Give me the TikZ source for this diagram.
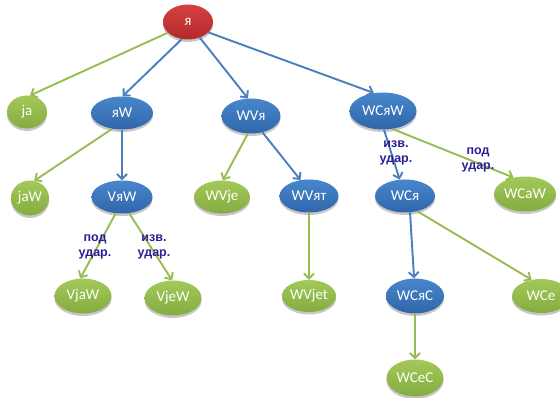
\documentclass[tikz,border=0pt]{standalone}
\usepackage{fontspec}
\setmainfont{Carlito}
\newfontfamily\lblfont{Liberation Sans}
\usetikzlibrary{shapes.geometric,arrows.meta,shadows}
\definecolor{bluetop}{RGB}{72,134,204}
\definecolor{bluebot}{RGB}{48,102,170}
\definecolor{greentop}{RGB}{164,200,90}
\definecolor{greenbot}{RGB}{132,172,64}
\definecolor{redtop}{RGB}{214,66,66}
\definecolor{redbot}{RGB}{178,40,42}
\definecolor{bluearr}{RGB}{74,126,190}
\definecolor{greenarr}{RGB}{150,188,82}
\definecolor{lblcol}{RGB}{44,30,150}
\tikzset{
  nd/.style={ellipse, inner sep=0pt, minimum height=34pt, text=white,
    font=\fontsize{15}{17}\selectfont,
    drop shadow={shadow xshift=0pt, shadow yshift=-2.5pt, opacity=0.22, fill=black}},
  bnode/.style={nd, top color=bluetop, bottom color=bluebot},
  gnode/.style={nd, top color=greentop, bottom color=greenbot},
  rnode/.style={nd, top color=redtop, bottom color=redbot},
  conn/.style={line width=1.9pt, -{Straight Barb[length=5pt,width=10pt]}},
  barr/.style={conn, draw=bluearr},
  garr/.style={conn, draw=greenarr},
  lbl/.style={text=lblcol, font=\lblfont\bfseries\fontsize{12.5}{15.5}\selectfont, align=center, inner sep=0pt}
}
\begin{document}
\begin{tikzpicture}[x=1pt,y=-1pt]
\useasboundingbox (0,0) rectangle (560,398);
\begin{scope}
\clip (0,0) rectangle (560,398);
\node[rnode, minimum width=50pt, minimum height=35pt] (r) at (188,22) {я};
\node[gnode, minimum width=40pt, minimum height=33pt] (ja) at (27,112) {ja};
\node[bnode, minimum width=62pt, minimum height=33pt] (yaW) at (122,113) {яW};
\node[bnode, minimum width=59pt, minimum height=35pt] (WVya) at (251,116) {WVя};
\node[bnode, minimum width=67pt, minimum height=37pt] (WCyaW) at (383,111) {WCяW};
\node[gnode, minimum width=38pt, minimum height=35pt] (jaW) at (30,198) {jaW};
\node[bnode, minimum width=61pt, minimum height=33pt] (VyaW) at (122,197) {VяW};
\node[gnode, minimum width=56pt, minimum height=33pt] (WVje) at (222,197) {WVje};
\node[bnode, minimum width=59pt, minimum height=33pt] (WVyat) at (309,196) {WVят};
\node[bnode, minimum width=60pt, minimum height=33pt] (WCya) at (405,196) {WCя};
\node[gnode, minimum width=62pt, minimum height=35pt] (WCaW) at (525,194) {WCaW};
\node[gnode, minimum width=57pt, minimum height=35pt] (VjaW) at (83,296) {VjaW};
\node[gnode, minimum width=57pt, minimum height=35pt] (VjeW) at (173,298) {VjeW};
\node[gnode, minimum width=54pt, minimum height=32pt] (WVjet) at (309,296) {WVjet};
\node[bnode, minimum width=58pt, minimum height=35pt] (WCyaC) at (415,296) {WCяC};
\node[gnode, minimum width=58pt, minimum height=34pt] (WCe) at (541,296) {WCe};
\node[gnode, minimum width=57pt, minimum height=37pt] (WCeC) at (415,378) {WCeC};
\end{scope}
\draw[garr] (r.208) -- (ja.80);
\draw[barr] (r.250) -- (yaW.88);
\draw[barr] (r.307) -- (WVya.100);
\draw[barr] (r.333) -- (WCyaW.117);
\draw[garr] (yaW.238) -- (jaW.76);
\draw[barr] (yaW.south) -- (VyaW.north);
\draw[garr] (VyaW.249) -- (VjaW.99);
\draw[garr] (VyaW.294) -- (VjeW.93);
\draw[garr] (WVya.260) -- (WVje.87);
\draw[barr] (WVya.305) -- (WVyat.118);
\draw[garr] (WVyat.south) -- (WVjet.north);
\draw[barr] (WCyaW.273) -- (WCya.108);
\draw[garr] (WCyaW.298) -- (WCaW.125);
\draw[barr] (WCya.287) -- (WCyaC.93);
\draw[garr] (WCya.309) -- (WCe.120);
\draw[garr] (WCyaC.south) -- (WCeC.north);
\node[lbl] (l1) at (95,247) {под\\удар.};
\node[lbl] (l2) at (154,247) {изв.\\удар.};
\node[lbl] (l3) at (396,153) {изв.\\удар.};
\node[lbl] (l4) at (478,160) {под\\удар.};
\end{tikzpicture}
\end{document}
